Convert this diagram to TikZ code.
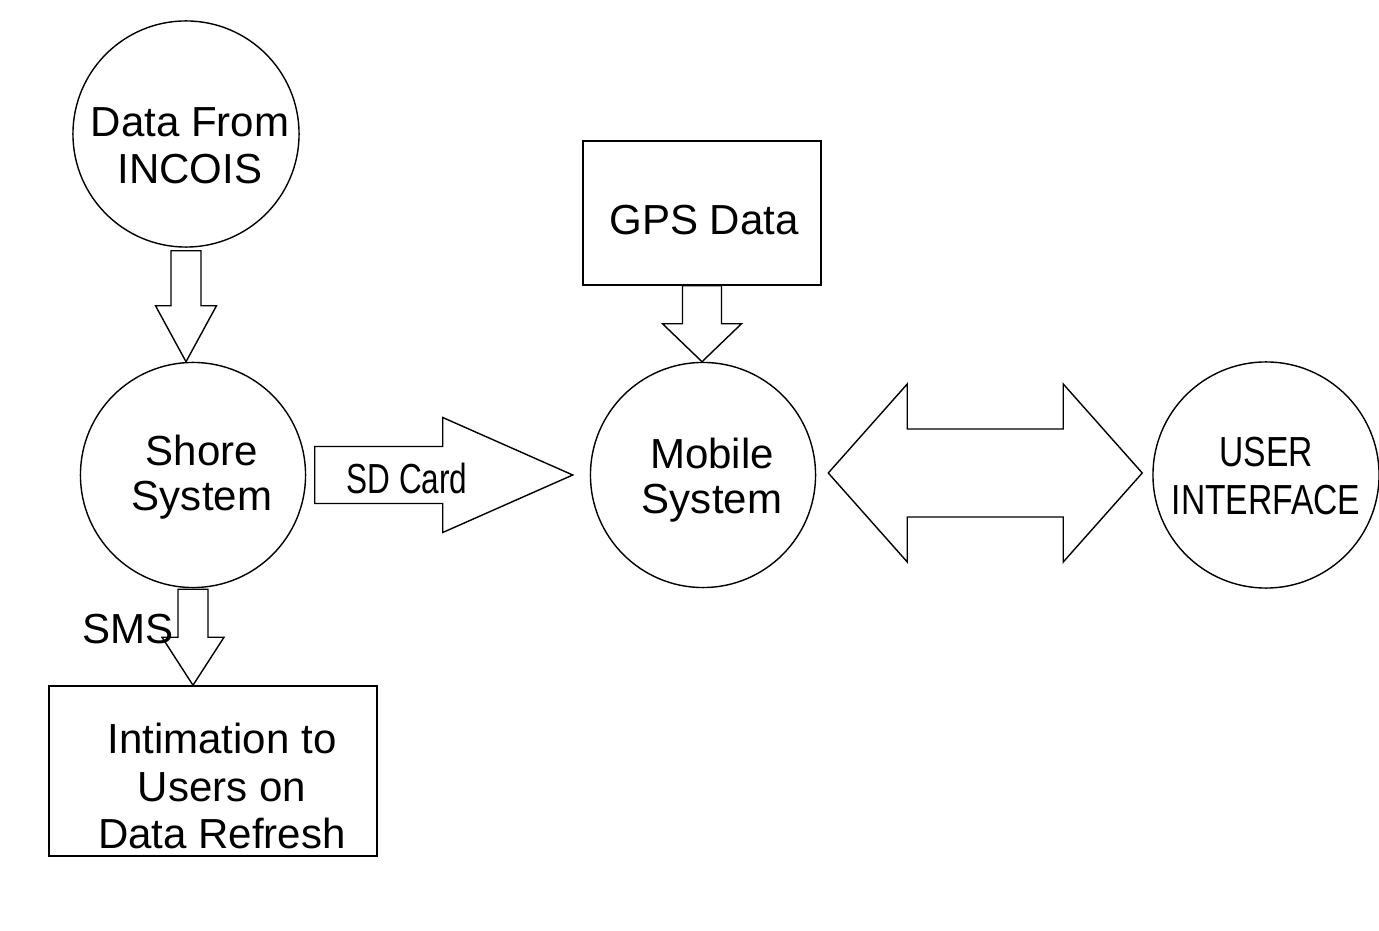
\documentclass[tikz,border=0pt]{standalone}
\usepackage{fontspec}
\setmainfont{Liberation Sans}
\newfontfamily\narrowfont{Liberation Sans}[FakeStretch=0.8]
\newfontfamily\sdfont{Liberation Sans}[FakeStretch=0.75]
\usetikzlibrary{calc}

\begin{document}
\begin{tikzpicture}[x=0.01cm, y=0.01cm,
    bubble/.style={circle, draw, line width=0.4pt, minimum size=2.25cm, inner sep=0pt},
    box/.style={rectangle, draw, line width=0.4pt, inner sep=0pt},
    txt/.style={align=center, inner sep=0pt, font=\fontsize{11.95pt}{13.4pt}\selectfont},
    tighttxt/.style={txt, font=\fontsize{11.95pt}{12.8pt}\selectfont},
    blockarrow/.style={draw, line width=0.4pt, line join=miter}]
    \useasboundingbox (0,0) rectangle (1379,930);

    % Nodes
    \node[bubble, minimum size=2.26cm] (incois) at (186,796) {};
    \node[txt] (incoistxt) at ($(incois)+(4,-12)$) {Data From\\INCOIS};
    \node[bubble] (shore) at (193,455) {};
    \node[tighttxt] (shoretxt) at ($(shore)+(9,-2)$) {Shore\\System};
    \node[bubble] (mobile) at (703,455) {};
    \node[tighttxt] (mobiletxt) at ($(mobile)+(9,-5)$) {Mobile\\System};
    \node[bubble, minimum size=2.26cm] (ui) at (1266,455) {};
    \node[txt, font=\narrowfont\fontsize{11.95pt}{13.4pt}\selectfont] (uitxt) at ($(ui)+(0,-1)$) {USER\\INTERFACE};
    \node[box, minimum width=2.38cm, minimum height=1.44cm] (gps) at (702,717) {};
    \node[txt] (gpstxt) at ($(gps)+(2,-7)$) {GPS Data};
    \node[box, minimum width=3.28cm, minimum height=1.70cm] (intim) at (213,159) {};
    \node[txt, font=\fontsize{11.95pt}{13.5pt}\selectfont] (intimtxt) at ($(intim)+(9,-15)$) {Intimation to\\Users on\\Data Refresh};
    \node[txt, anchor=base west] (sms) at (82,287) {SMS};
    \node[txt, font=\sdfont\fontsize{11.95pt}{13.4pt}\selectfont, anchor=base] (sdcard) at (407,436) {SD Card};

    % Arrows
    \draw[blockarrow] ($(incois.south)+(-15,-3)$) -- ($(incois.south)+(15,-3)$)
        -- ($(incois.south |- shore.north)+(15,56)$) -- ++(15.5,0)
        -- (incois.south |- shore.north) -- ++(-30.5,56) -- ++(15.5,0) -- cycle;
    \draw[blockarrow] ($(shore.south)+(-15,-1)$) -- ($(shore.south)+(15,-1)$)
        -- ($(shore.south |- intim.north)+(15,48)$) -- ++(16,0)
        -- (shore.south |- intim.north) -- ++(-31,48) -- ++(16,0) -- cycle;
    \draw[blockarrow] ($(gps.south)+(-19.5,0)$) -- ($(gps.south)+(19.5,0)$)
        -- ($(gps.south |- mobile.north)+(19.5,38)$) -- ++(20,0)
        -- (gps.south |- mobile.north) -- ++(-39.5,38) -- ++(20,0) -- cycle;
    \coordinate (sdtip) at ($(mobile.west)+(-17,0)$);
    \draw[blockarrow] ($(shore.east)+(8.5,28.5)$) -- ($(sdtip)+(-130,28.5)$) -- ++(0,29)
        -- (sdtip) -- ++(-130,-57.5) -- ++(0,29) -- ($(shore.east)+(8.5,-28.5)$) -- cycle;
    \coordinate (uileft) at ($(mobile.east)+(12,2)$);
    \coordinate (uiright) at ($(ui.west)+(-10,2)$);
    \draw[blockarrow] (uileft) -- ++(79,89) -- ++(0,-45) -- ($(uiright)+(-79,44)$) -- ++(0,45)
        -- (uiright) -- ++(-79,-89) -- ++(0,45) -- ($(uileft)+(79,-44)$) -- ++(0,-45) -- cycle;
\end{tikzpicture}
\end{document}
